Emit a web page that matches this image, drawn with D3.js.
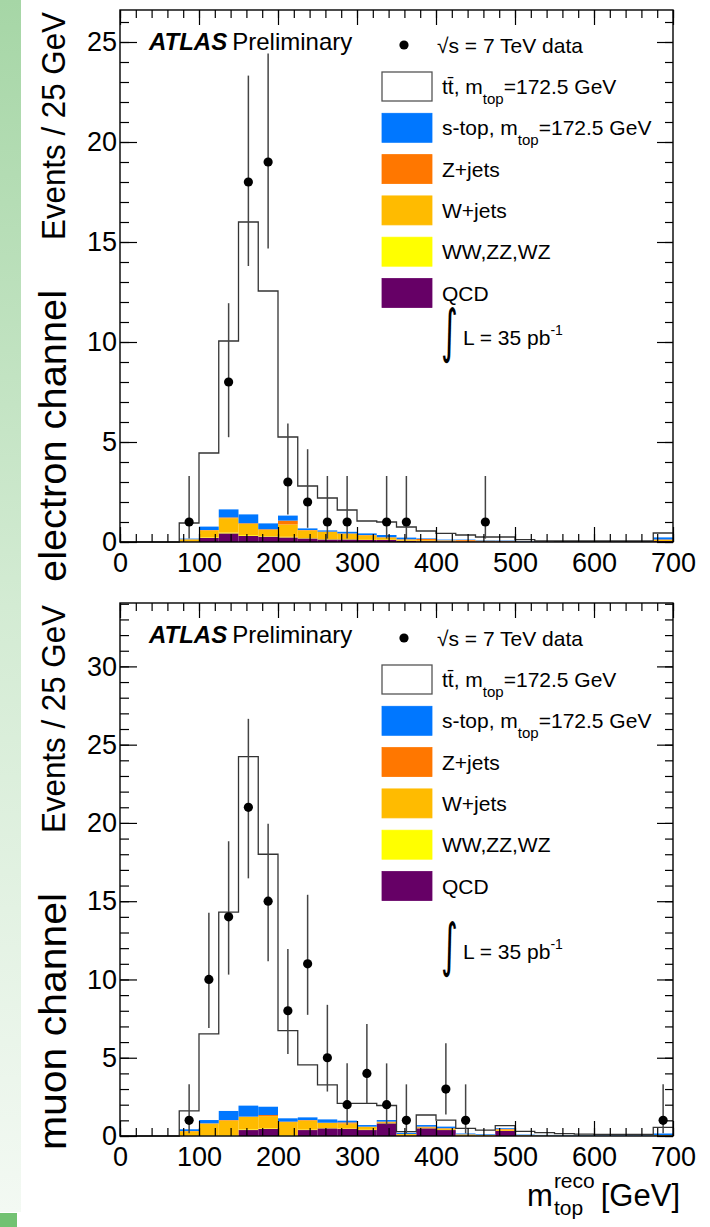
<!DOCTYPE html>
<html><head><meta charset="utf-8">
<script src="https://cdn.jsdelivr.net/npm/d3@7"></script>
<style>
body{margin:0;background:#fff;}
svg{display:block;font-family:"Liberation Sans",Arial,Helvetica,sans-serif;}
</style></head><body>
<svg id="c" width="710" height="1227"></svg>
<script>
// ---------------- DATA ----------------
const binLow = d3.range(0, 700, 25);            // 28 bins of 25 GeV
const xTicks = [0,100,200,300,400,500,600,700];

// electron channel (stack components, events per bin)
const eQCD     = [0,0,0,0.02,0.20,0.43,0.30,0.27,0.23,0.18,0.13,0.13,0.10,0.10,0.05,0.04,0.03,0.03,0.03,0.03,0.02,0.02,0.02,0.02,0.02,0.02,0.02,0.05];
const eDiboson = [0,0,0,0.01,0.03,0.04,0.04,0.03,0.03,0.02,0.02,0.02,0.01,0.01,0.01,0.01,0.01,0,0,0,0,0,0,0,0,0,0,0];
const eWjets   = [0,0,0,0.10,0.35,0.72,0.57,0.31,0.62,0.38,0.35,0.26,0.22,0.11,0.06,0.04,0.03,0.03,0.03,0.02,0.01,0.01,0.01,0.01,0.01,0.01,0.01,0.05];
const eZjets   = [0,0,0,0.01,0.02,0.04,0.03,0.03,0.19,0.02,0.02,0.02,0.02,0.02,0.02,0.06,0.02,0.04,0.01,0.01,0,0,0,0,0,0,0,0.03];
const eStop    = [0,0,0,0.03,0.17,0.40,0.44,0.29,0.25,0.08,0.06,0.08,0.08,0.11,0.08,0.03,0.03,0.02,0.02,0.02,0.02,0.01,0.01,0.01,0.01,0.01,0.01,0.10];
const eTtbar   = [0,0,0,0.78,3.68,8.42,14.62,11.62,3.93,2.12,1.62,1.09,0.62,0.65,0.53,0.37,0.31,0.23,0.16,0.17,0.07,0.02,0.01,0.01,0.01,0.01,0.01,0.22];
const eDataMass  = [87.5,137.5,162.5,187.5,212.5,237.5,262.5,287.5,337.5,362.5,462.5];
const eDataCount = [1,8,18,19,3,2,1,1,1,1,1];
const eDataLow   = [0.17,5.24,13.80,14.68,1.37,0.71,0.17,0.17,0.17,0.17,0.17];
const eDataHigh  = [3.30,11.94,23.32,24.43,5.92,4.64,3.30,3.30,3.30,3.30,3.30];
const eYTicks = [0,5,10,15,20,25];

// muon channel
const mQCD     = [0,0,0,0,0,0,0.38,0.45,0,0.38,0.49,0.45,0.38,0.81,0,0.49,0.38,0,0,0.32,0,0,0,0,0,0,0,0];
const mDiboson = [0,0,0,0.02,0.03,0.04,0.04,0.04,0.04,0.03,0.02,0.02,0.02,0.02,0.01,0.01,0.01,0.01,0.01,0.01,0,0,0,0,0,0,0,0];
const mWjets   = [0,0,0,0.28,0.76,0.95,0.80,0.78,0.85,0.58,0.32,0.33,0.18,0.05,0.11,0.05,0.08,0.08,0.05,0.08,0.04,0.03,0.02,0.02,0.01,0.01,0.01,0.05];
const mZjets   = [0,0,0,0.02,0.02,0.03,0.02,0.07,0.03,0.03,0.02,0.07,0.02,0.04,0.01,0.05,0.03,0.02,0.01,0.04,0.01,0.01,0,0,0,0,0,0.01];
const mStop    = [0,0,0,0.11,0.21,0.58,0.70,0.53,0.21,0.17,0.21,0.11,0.10,0.10,0.07,0.10,0.10,0.05,0.04,0.05,0.04,0.03,0.03,0.03,0.03,0.03,0.03,0.10];
const mTtbar   = [0,0,0,1.17,5.50,12.70,22.30,16.13,5.60,3.35,2.20,1.11,1.39,0.93,0.08,0.64,0.42,0.33,0.27,0.16,0.21,0.15,0.10,0.07,0.06,0.06,0.06,0.39];
const mDataMass  = [87.5,112.5,137.5,162.5,187.5,212.5,237.5,262.5,287.5,312.5,337.5,362.5,412.5,437.5,687.5];
const mDataCount = [1,10,14,21,15,8,11,5,2,4,2,1,3,1,1];
const mDataLow   = [0.17,6.90,10.31,16.46,11.17,5.24,7.74,2.84,0.71,2.09,0.71,0.17,1.37,0.17,0.17];
const mDataHigh  = [3.30,14.26,18.83,26.65,19.95,11.94,15.41,8.38,4.64,7.16,4.64,3.30,5.92,3.30,3.30];
const mYTicks = [0,5,10,15,20,25,30];

const stackKeys   = ["qcd","dib","wj","zj","st","tt"];
const stackColors = ["#660066","#ffff00","#ffbb00","#ff7700","#0077ff","#ffffff"];
const legendNames = ["tt̄, m|top|=172.5 GeV","s-top, m|top|=172.5 GeV","Z+jets","W+jets","WW,ZZ,WZ","QCD"];
const legendColors = ["#ffffff","#0077ff","#ff7700","#ffbb00","#ffff00","#660066"];

// ---------------- DRAW ----------------
const svg = d3.select("#c");
const defs = svg.append("defs");
const gr = defs.append("linearGradient").attr("id","strip").attr("x1",0).attr("y1",0).attr("x2",0).attr("y2",1);
gr.append("stop").attr("offset","0%").attr("stop-color","#a6d6a6");
gr.append("stop").attr("offset","50%").attr("stop-color","#d3ebd3");
gr.append("stop").attr("offset","100%").attr("stop-color","#f3f9f3");
svg.append("rect").attr("x",0).attr("y",0).attr("width",21).attr("height",1212).attr("fill","url(#strip)");
svg.append("rect").attr("x",0).attr("y",1213).attr("width",17).attr("height",14).attr("fill","#72c272");

const L = 120, R = 673;
const x = d3.scaleLinear().domain([0,700]).range([L,R]);

function drawPanel(p){
  const g = svg.append("g");
  const y = d3.scaleLinear().domain([0,p.ymax]).range([p.bottom,p.top]);
  const rows = binLow.map((b,i)=>({lo:b, qcd:p.qcd[i], dib:p.dib[i], wj:p.wj[i], zj:p.zj[i], st:p.st[i], tt:p.tt[i]}));
  const layers = d3.stack().keys(stackKeys)(rows);
  layers.forEach((layer,k)=>{
    if (stackKeys[k]==="tt") return;
    g.append("g").selectAll("rect").data(layer).join("rect")
      .attr("x", d=>x(d.data.lo)).attr("width", d=>x(d.data.lo+25)-x(d.data.lo))
      .attr("y", d=>y(d[1])).attr("height", d=>Math.max(0,y(d[0])-y(d[1])))
      .attr("fill", stackColors[k]);
  });
  const topL = layers[layers.length-1];
  const pts = topL.map(d=>[d.data.lo, d[1]]);
  pts.push([700, topL[topL.length-1][1]]);
  g.append("path").attr("d", d3.line().x(d=>x(d[0])).y(d=>y(d[1])).curve(d3.curveStepAfter)(pts))
    .attr("fill","none").attr("stroke","#333").attr("stroke-width",1.3);

  // data points
  const dg = g.append("g");
  p.mass.forEach((m,i)=>{
    dg.append("line").attr("x1",x(m)).attr("x2",x(m)).attr("y1",y(Math.min(p.high[i],p.ymax))).attr("y2",y(p.low[i]))
      .attr("stroke","#444").attr("stroke-width",1.5);
    dg.append("circle").attr("cx",x(m)).attr("cy",y(p.count[i])).attr("r",4.6).attr("fill","#000");
  });

  // axes
  const ax = g.append("g");
  ax.append("g").attr("transform",`translate(0,${p.bottom})`)
    .call(d3.axisBottom(x).tickValues(xTicks).tickSizeInner(-15).tickSizeOuter(0).tickPadding(11).tickFormat(d3.format("d")));
  ax.append("g").attr("transform",`translate(0,${p.bottom})`)
    .call(d3.axisBottom(x).tickValues(d3.range(0,701,20)).tickSizeInner(-8).tickSizeOuter(0).tickFormat(""));
  ax.append("g").attr("transform",`translate(0,${p.top})`)
    .call(d3.axisTop(x).tickValues(xTicks).tickSizeInner(-15).tickSizeOuter(0).tickFormat(""));
  ax.append("g").attr("transform",`translate(0,${p.top})`)
    .call(d3.axisTop(x).tickValues(d3.range(0,701,20)).tickSizeInner(-8).tickSizeOuter(0).tickFormat(""));
  ax.append("g").attr("transform",`translate(${L},0)`)
    .call(d3.axisLeft(y).tickValues(p.yticks).tickSizeInner(-17).tickSizeOuter(0).tickPadding(3).tickFormat(d3.format("d")));
  ax.append("g").attr("transform",`translate(${L},0)`)
    .call(d3.axisLeft(y).tickValues(d3.range(0,p.ymax,1)).tickSizeInner(-9).tickSizeOuter(0).tickFormat(""));
  ax.append("g").attr("transform",`translate(${R},0)`)
    .call(d3.axisRight(y).tickValues(p.yticks).tickSizeInner(-16).tickSizeOuter(0).tickFormat(""));
  ax.append("g").attr("transform",`translate(${R},0)`)
    .call(d3.axisRight(y).tickValues(d3.range(0,p.ymax,1)).tickSizeInner(-8).tickSizeOuter(0).tickFormat(""));
  ax.selectAll(".domain").remove();
  ax.selectAll(".tick line").attr("stroke","#000").attr("stroke-width",1.2);
  ax.selectAll(".tick text").attr("font-size",27).attr("fill","#000")
    .attr("font-family",'"Liberation Sans",Arial,sans-serif');
  g.append("rect").attr("x",L).attr("y",p.top).attr("width",R-L).attr("height",p.bottom-p.top)
    .attr("fill","none").attr("stroke","#000").attr("stroke-width",1.4);

  // ATLAS label
  const at = g.append("text").attr("x",149).attr("y",p.top+40).attr("font-size",24).attr("fill","#000");
  at.append("tspan").attr("font-weight","bold").attr("font-style","italic").text("ATLAS");
  at.append("tspan").attr("dx",5).text("Preliminary");

  // legend
  const lg = g.append("g").attr("font-size",21).attr("fill","#000");
  lg.append("circle").attr("cx",404).attr("cy",p.top+35).attr("r",4.6).attr("fill","#000");
  lg.append("text").attr("x",437).attr("y",p.top+43).text("√s = 7 TeV data");
  legendNames.forEach((nm,i)=>{
    const cy = p.top + 76.5 + i*41.3;
    lg.append("rect").attr("x",382).attr("y",cy-14.5).attr("width",50).attr("height",29)
      .attr("fill",legendColors[i]).attr("stroke", i===0 ? "#555" : legendColors[i]).attr("stroke-width", i===0?1.3:0.8);
    const t = lg.append("text").attr("x",442).attr("y",cy+7.5);
    const parts = nm.split("|");
    if (parts.length===3){
      t.append("tspan").text(parts[0]);
      t.append("tspan").attr("font-size",15).attr("dy",10).text(parts[1]);
      t.append("tspan").attr("dy",-10).text(parts[2]);
    } else t.text(nm);
  });
  // luminosity
  g.append("text").attr("x",0).attr("y",0).attr("font-family","DejaVu Sans").attr("font-size",40)
    .attr("transform",`translate(441,${p.lumiY+6}) scale(0.8,1.45)`).text("∫");
  const lt = g.append("text").attr("x",463).attr("y",p.lumiY).attr("font-size",21);
  lt.append("tspan").text("L = 35 pb");
  lt.append("tspan").attr("font-size",14).attr("dy",-10).text("-1");

  // y titles
  g.append("text").attr("transform",`translate(65,${p.top+230}) rotate(-90)`).attr("text-anchor","start")
    .attr("font-size",32.5).attr("textLength",228).attr("lengthAdjust","spacingAndGlyphs").text("Events / 25 GeV");
  g.append("text").attr("transform",`translate(66,${p.chanY}) rotate(-90)`).attr("text-anchor","start")
    .attr("font-size",39).attr("textLength",p.chanLen).attr("lengthAdjust","spacingAndGlyphs").text(p.chan);
}

drawPanel({top:10, bottom:542, ymax:26.6, qcd:eQCD, dib:eDiboson, wj:eWjets, zj:eZjets, st:eStop, tt:eTtbar,
  mass:eDataMass, count:eDataCount, low:eDataLow, high:eDataHigh, yticks:eYTicks, chan:"electron channel", chanY:582, chanLen:292, lumiY:345});
drawPanel({top:603, bottom:1136, ymax:34.05, qcd:mQCD, dib:mDiboson, wj:mWjets, zj:mZjets, st:mStop, tt:mTtbar,
  mass:mDataMass, count:mDataCount, low:mDataLow, high:mDataHigh, yticks:mYTicks, chan:"muon channel", chanY:1150, chanLen:257, lumiY:959});

// x title
const xt = svg.append("g").attr("font-size",31).attr("fill","#000");
const gev = xt.append("text").attr("x",680).attr("y",1206).attr("text-anchor","end").text("[GeV]");
const wG = gev.node().getComputedTextLength();
const xs = 680 - wG - 6;
const reco = xt.append("text").attr("x",xs).attr("y",1188).attr("text-anchor","end").attr("font-size",21).text("reco");
const top_ = xt.append("text").attr("x",xs).attr("y",1215).attr("text-anchor","start").attr("font-size",21).text("top");
const wR = reco.node().getComputedTextLength();
top_.attr("x", xs - wR);
xt.append("text").attr("x",xs - wR - 1).attr("y",1206).attr("text-anchor","end").text("m");
</script>
</body></html>
